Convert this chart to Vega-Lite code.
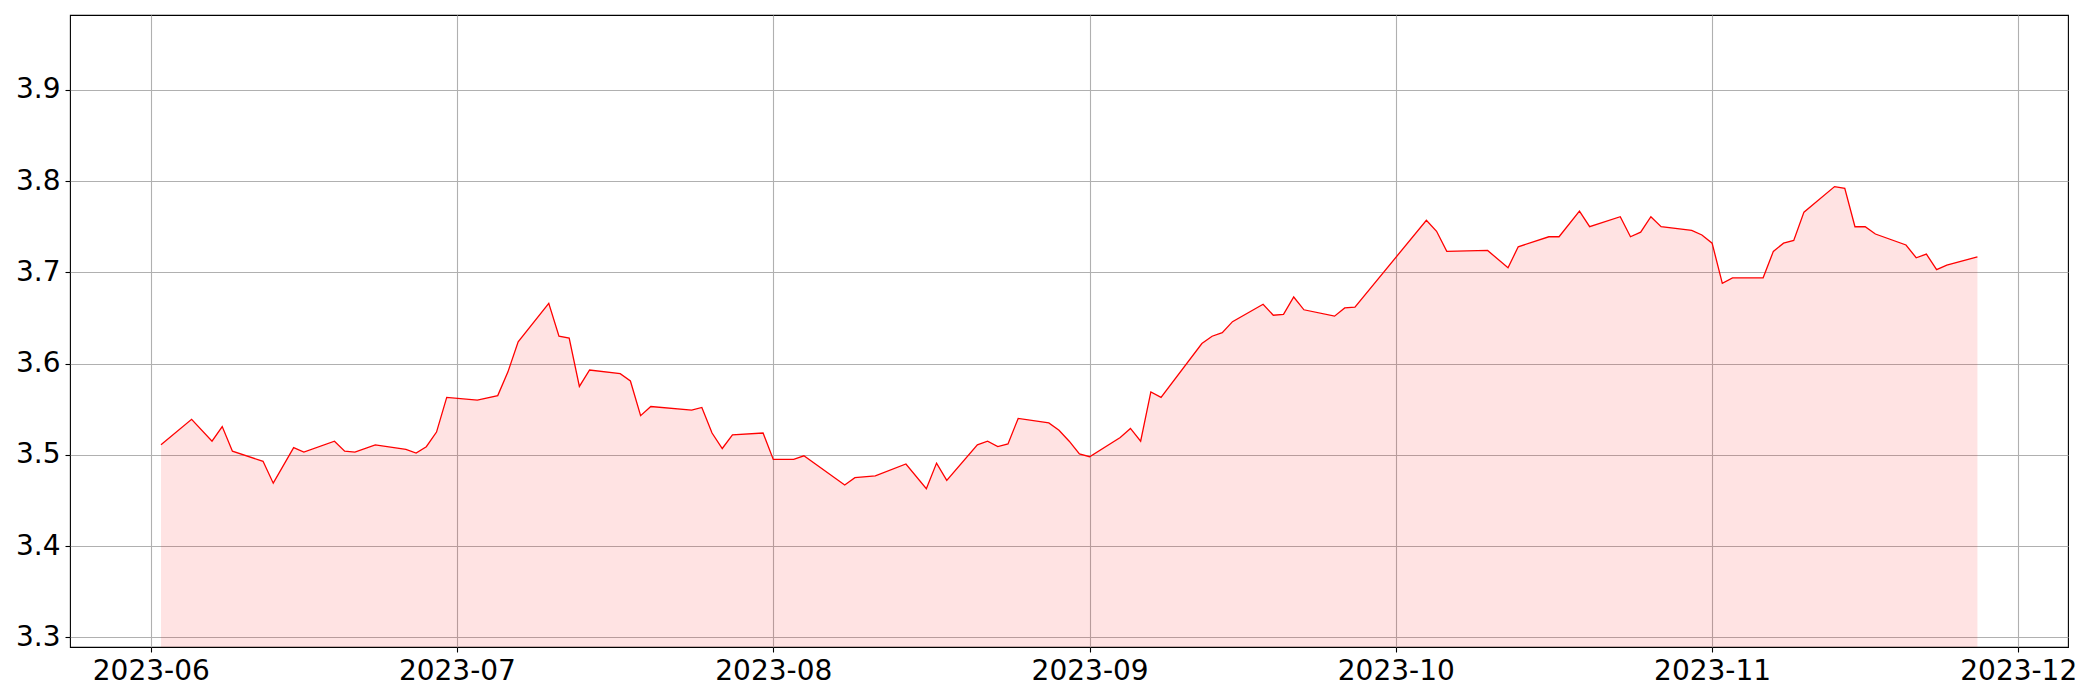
{
  "$schema": "https://vega.github.io/schema/vega-lite/v6.json",
  "width": 1998,
  "height": 632,
  "autosize": {"type": "none"},
  "padding": {"left": 70, "top": 15, "right": 32, "bottom": 53},
  "background": "white",
  "config": {
    "view": {"stroke": "black", "strokeWidth": 1.1},
    "font": "DejaVu Sans",
    "axis": {
      "domain": false,
      "grid": true,
      "gridColor": "#b0b0b0",
      "gridWidth": 1.1,
      "gridOpacity": 1,
      "ticks": true,
      "tickColor": "black",
      "tickSize": 5,
      "tickWidth": 1.1,
      "labelFont": "DejaVu Sans",
      "labelFontSize": 28,
      "labelColor": "black",
      "labelPadding": 5,
      "labelOverlap": false,
      "labelFlush": false,
      "labelBound": false,
      "title": null
    }
  },
  "data": {
    "values": [
      {"date": "2023-06-02", "v": 3.511},
      {"date": "2023-06-05", "v": 3.539},
      {"date": "2023-06-07", "v": 3.515},
      {"date": "2023-06-08", "v": 3.531},
      {"date": "2023-06-09", "v": 3.504},
      {"date": "2023-06-12", "v": 3.493},
      {"date": "2023-06-13", "v": 3.469},
      {"date": "2023-06-15", "v": 3.508},
      {"date": "2023-06-16", "v": 3.503},
      {"date": "2023-06-19", "v": 3.515},
      {"date": "2023-06-20", "v": 3.504},
      {"date": "2023-06-21", "v": 3.503},
      {"date": "2023-06-23", "v": 3.511},
      {"date": "2023-06-26", "v": 3.506},
      {"date": "2023-06-27", "v": 3.502},
      {"date": "2023-06-28", "v": 3.509},
      {"date": "2023-06-29", "v": 3.525},
      {"date": "2023-06-30", "v": 3.563},
      {"date": "2023-07-03", "v": 3.560},
      {"date": "2023-07-05", "v": 3.565},
      {"date": "2023-07-06", "v": 3.591},
      {"date": "2023-07-07", "v": 3.624},
      {"date": "2023-07-10", "v": 3.666},
      {"date": "2023-07-11", "v": 3.630},
      {"date": "2023-07-12", "v": 3.628},
      {"date": "2023-07-13", "v": 3.575},
      {"date": "2023-07-14", "v": 3.593},
      {"date": "2023-07-17", "v": 3.589},
      {"date": "2023-07-18", "v": 3.581},
      {"date": "2023-07-19", "v": 3.543},
      {"date": "2023-07-20", "v": 3.553},
      {"date": "2023-07-24", "v": 3.549},
      {"date": "2023-07-25", "v": 3.552},
      {"date": "2023-07-26", "v": 3.524},
      {"date": "2023-07-27", "v": 3.507},
      {"date": "2023-07-28", "v": 3.522},
      {"date": "2023-07-31", "v": 3.524},
      {"date": "2023-08-01", "v": 3.495},
      {"date": "2023-08-02", "v": 3.495},
      {"date": "2023-08-03", "v": 3.495},
      {"date": "2023-08-04", "v": 3.499},
      {"date": "2023-08-08", "v": 3.467},
      {"date": "2023-08-09", "v": 3.475},
      {"date": "2023-08-11", "v": 3.477},
      {"date": "2023-08-14", "v": 3.490},
      {"date": "2023-08-16", "v": 3.463},
      {"date": "2023-08-17", "v": 3.491},
      {"date": "2023-08-18", "v": 3.472},
      {"date": "2023-08-21", "v": 3.511},
      {"date": "2023-08-22", "v": 3.515},
      {"date": "2023-08-23", "v": 3.509},
      {"date": "2023-08-24", "v": 3.512},
      {"date": "2023-08-25", "v": 3.540},
      {"date": "2023-08-28", "v": 3.535},
      {"date": "2023-08-29", "v": 3.527},
      {"date": "2023-08-30", "v": 3.515},
      {"date": "2023-08-31", "v": 3.501},
      {"date": "2023-09-01", "v": 3.498},
      {"date": "2023-09-04", "v": 3.519},
      {"date": "2023-09-05", "v": 3.529},
      {"date": "2023-09-06", "v": 3.515},
      {"date": "2023-09-07", "v": 3.569},
      {"date": "2023-09-08", "v": 3.563},
      {"date": "2023-09-12", "v": 3.622},
      {"date": "2023-09-13", "v": 3.630},
      {"date": "2023-09-14", "v": 3.634},
      {"date": "2023-09-15", "v": 3.646},
      {"date": "2023-09-18", "v": 3.665},
      {"date": "2023-09-19", "v": 3.653},
      {"date": "2023-09-20", "v": 3.654},
      {"date": "2023-09-21", "v": 3.673},
      {"date": "2023-09-22", "v": 3.659},
      {"date": "2023-09-25", "v": 3.652},
      {"date": "2023-09-26", "v": 3.661},
      {"date": "2023-09-27", "v": 3.662},
      {"date": "2023-10-04", "v": 3.757},
      {"date": "2023-10-05", "v": 3.745},
      {"date": "2023-10-06", "v": 3.723},
      {"date": "2023-10-10", "v": 3.724},
      {"date": "2023-10-12", "v": 3.705},
      {"date": "2023-10-13", "v": 3.728},
      {"date": "2023-10-16", "v": 3.739},
      {"date": "2023-10-17", "v": 3.739},
      {"date": "2023-10-19", "v": 3.767},
      {"date": "2023-10-20", "v": 3.750},
      {"date": "2023-10-23", "v": 3.761},
      {"date": "2023-10-24", "v": 3.739},
      {"date": "2023-10-25", "v": 3.744},
      {"date": "2023-10-26", "v": 3.761},
      {"date": "2023-10-27", "v": 3.750},
      {"date": "2023-10-30", "v": 3.746},
      {"date": "2023-10-31", "v": 3.741},
      {"date": "2023-11-01", "v": 3.732},
      {"date": "2023-11-02", "v": 3.688},
      {"date": "2023-11-03", "v": 3.694},
      {"date": "2023-11-06", "v": 3.694},
      {"date": "2023-11-07", "v": 3.723},
      {"date": "2023-11-08", "v": 3.732},
      {"date": "2023-11-09", "v": 3.735},
      {"date": "2023-11-10", "v": 3.766},
      {"date": "2023-11-13", "v": 3.794},
      {"date": "2023-11-14", "v": 3.792},
      {"date": "2023-11-15", "v": 3.750},
      {"date": "2023-11-16", "v": 3.750},
      {"date": "2023-11-17", "v": 3.742},
      {"date": "2023-11-20", "v": 3.730},
      {"date": "2023-11-21", "v": 3.716},
      {"date": "2023-11-22", "v": 3.720},
      {"date": "2023-11-23", "v": 3.703},
      {"date": "2023-11-24", "v": 3.708},
      {"date": "2023-11-27", "v": 3.717}
    ]
  },
  "encoding": {
    "x": {
      "field": "date",
      "type": "temporal",
      "scale": {
        "type": "utc",
        "domain": [
          {"year": 2023, "month": 5, "date": 24, "hours": 2, "utc": true},
          {"year": 2023, "month": 12, "date": 5, "hours": 21, "utc": true}
        ],
        "nice": false
      },
      "axis": {
        "labelExpr": "utcFormat(datum.value, '%Y-%m')",
        "values": [
          {"year": 2023, "month": 6, "date": 1, "utc": true},
          {"year": 2023, "month": 7, "date": 1, "utc": true},
          {"year": 2023, "month": 8, "date": 1, "utc": true},
          {"year": 2023, "month": 9, "date": 1, "utc": true},
          {"year": 2023, "month": 10, "date": 1, "utc": true},
          {"year": 2023, "month": 11, "date": 1, "utc": true},
          {"year": 2023, "month": 12, "date": 1, "utc": true}
        ]
      }
    },
    "y": {
      "field": "v",
      "type": "quantitative",
      "scale": {"domain": [3.2895, 3.982], "nice": false, "zero": false},
      "axis": {
        "values": [3.3, 3.4, 3.5, 3.6, 3.7, 3.8, 3.9],
        "format": ".1f"
      }
    }
  },
  "layer": [
    {
      "mark": {"type": "area", "color": "red", "opacity": 0.11, "clip": true},
      "encoding": {
        "y2": {"datum": 3.2895}
      }
    },
    {
      "mark": {"type": "line", "color": "red", "strokeWidth": 1.3, "clip": true}
    }
  ]
}
